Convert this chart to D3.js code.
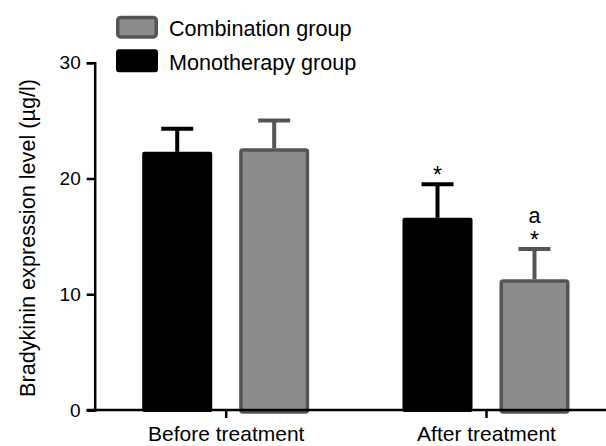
<!DOCTYPE html>
<html>
<head>
<meta charset="utf-8">
<script src="https://cdn.jsdelivr.net/npm/d3@7"></script>
<style>
  body { margin: 0; background: #fff; }
  text { font-family: "Liberation Sans", Arial, Helvetica, sans-serif; fill: #000; }
</style>
</head>
<body>
<div id="chart"></div>
<script>
const width = 606;
const height = 446;

// data
const groups = ["Before treatment", "After treatment"];
const series = ["Monotherapy group", "Combination group"];
const monoMean = [22.3, 16.6];
const monoSD = [2.0, 2.9];
const comboMean = [22.6, 11.3];
const comboSD = [2.4, 2.6];
const yTicks = [0, 10, 20, 30];
const legendOrder = ["Combination group", "Monotherapy group"];
// significance marks above the error bars
const marks = [
  {group: "After treatment", series: "Monotherapy group", labels: ["*"]},
  {group: "After treatment", series: "Combination group", labels: ["*", "a"]}
];

const fillColor = {"Monotherapy group": "#000", "Combination group": "#8c8c8c"};
const lineColor = {"Monotherapy group": "#000", "Combination group": "#555"};
const means = {"Monotherapy group": monoMean, "Combination group": comboMean};
const sds = {"Monotherapy group": monoSD, "Combination group": comboSD};

let rows = [];
groups.forEach((g, i) => {
  series.forEach(s => {
    rows.push({group: g, series: s, mean: means[s][i], sd: sds[s][i]});
  });
});

const svg = d3.select('#chart').append('svg')
  .attr('width', width)
  .attr('height', height);

const y = d3.scaleLinear().domain([0, 30]).range([410, 62.7]);
const x0 = d3.scalePoint().domain(groups).range([225.7, 486]);
const x1 = d3.scaleBand().domain(series).range([-83.5, 83.5]).paddingInner(0.278);
const axisX = 94.7;
const sw = 3.5;

// bars
const barG = svg.append('g');
rows.forEach(d => {
  let bx = x0(d.group) + x1(d.series);
  let bw = x1.bandwidth();
  let isGray = d.series === "Combination group";
  let inset = isGray ? sw / 2 : 0;
  let cx = bx + bw / 2;
  // error bar (upper only)
  barG.append('line')
    .attr('x1', cx).attr('x2', cx)
    .attr('y1', y(d.mean)).attr('y2', y(d.mean + d.sd))
    .attr('stroke', lineColor[d.series]).attr('stroke-width', 4);
  barG.append('line')
    .attr('x1', cx - 16).attr('x2', cx + 16)
    .attr('y1', y(d.mean + d.sd)).attr('y2', y(d.mean + d.sd))
    .attr('stroke', lineColor[d.series]).attr('stroke-width', 4);
  barG.append('rect')
    .attr('x', bx + inset)
    .attr('y', y(d.mean) + inset)
    .attr('width', bw - 2 * inset)
    .attr('height', y(0) - y(d.mean) - inset + 2)
    .attr('rx', 2)
    .attr('fill', fillColor[d.series])
    .attr('stroke', isGray ? lineColor[d.series] : 'none')
    .attr('stroke-width', isGray ? sw : 0);
});

// significance labels
marks.forEach(m => {
  let r = rows.find(d => d.group === m.group && d.series === m.series);
  let cx = x0(r.group) + x1(r.series) + x1.bandwidth() / 2;
  let top = y(r.mean + r.sd);
  m.labels.forEach(lab => {
    svg.append('text')
      .attr('x', cx)
      .attr('y', lab === "*" ? top - 1 : top - 26)
      .attr('text-anchor', 'middle')
      .style('font-size', lab === "*" ? '23px' : '21.6px')
      .text(lab);
  });
});

// y axis
const yAxis = svg.append('g')
  .attr('transform', `translate(${axisX},0)`)
  .call(d3.axisLeft(y).tickValues(yTicks).tickSize(8).tickSizeOuter(8).tickPadding(6));
yAxis.select('.domain').attr('stroke-width', 2.5);
yAxis.selectAll('.tick line').attr('stroke-width', 2.5);
yAxis.selectAll('.tick text')
  .style('font-size', '19px')
  .style('font-family', '"Liberation Sans", Arial, sans-serif')
  .attr('fill', '#000');

// x axis
const xAxis = svg.append('g')
  .attr('transform', 'translate(0,410)')
  .call(d3.axisBottom(x0).tickSize(8).tickPadding(12));
xAxis.select('.domain').remove();
xAxis.append('line')
  .attr('x1', axisX - 8).attr('x2', width)
  .attr('y1', 0).attr('y2', 0)
  .attr('stroke', '#000').attr('stroke-width', 2.5);
xAxis.selectAll('.tick line').attr('stroke-width', 2.5);
xAxis.selectAll('.tick text')
  .style('font-size', '21px')
  .style('font-family', '"Liberation Sans", Arial, sans-serif')
  .attr('fill', '#000')
  .attr('dy', null)
  .attr('y', 31);

// y label
svg.append('text')
  .attr('transform', 'translate(35,238) rotate(-90)')
  .attr('text-anchor', 'middle')
  .attr('textLength', 318)
  .attr('lengthAdjust', 'spacingAndGlyphs')
  .style('font-size', '22.5px')
  .text('Bradykinin expression level (µg/l)');

// legend
const legend = svg.append('g');
legendOrder.forEach((s, i) => {
  let ly = 15.7 + i * 33.6;
  let isGray = s === "Combination group";
  legend.append('rect')
    .attr('x', 116 + (isGray ? sw / 2 : 0))
    .attr('y', ly + (isGray ? sw / 2 : 0))
    .attr('width', 42 - (isGray ? sw : 0))
    .attr('height', 23 - (isGray ? sw : 0))
    .attr('rx', 3)
    .attr('fill', fillColor[s])
    .attr('stroke', isGray ? lineColor[s] : 'none')
    .attr('stroke-width', isGray ? sw : 0);
  legend.append('text')
    .attr('x', 169)
    .attr('y', ly + 20.5)
    .style('font-size', '21.6px')
    .text(s);
});
</script>
</body>
</html>
